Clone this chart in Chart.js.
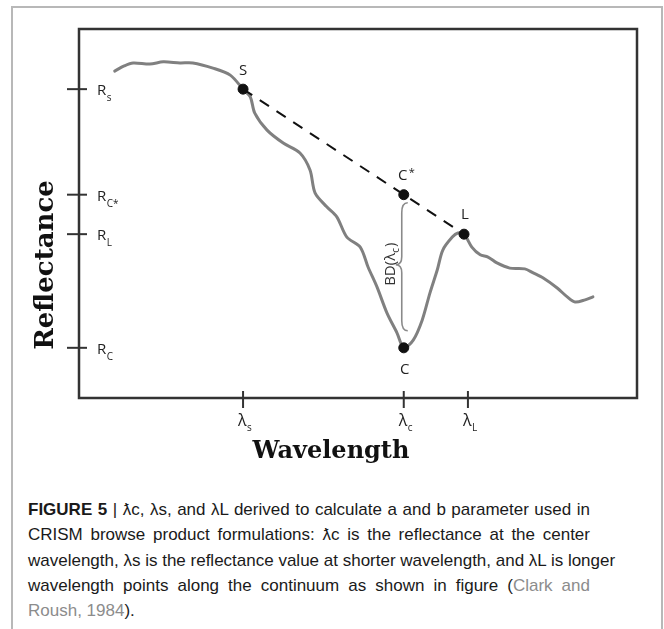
<!DOCTYPE html>
<html>
<head>
<meta charset="utf-8">
<script src="https://cdn.jsdelivr.net/npm/chart.js@4.4.1/dist/chart.umd.min.js"></script>
<style>
	body { margin: 0; background: #fff; width: 664px; height: 629px; overflow: hidden; position: relative; }
	#frame { position: absolute; left: 11px; top: 6px; width: 648px; height: 700px; border: 2px solid #b8b8b8; }
	#myChart { position: absolute; left: 0; top: 0; }
	#caption { position: absolute; left: 28px; top: 497px; width: 562px; font-family: "Liberation Sans Narrow", "Liberation Sans", sans-serif; font-size: 17px; line-height: 25.3px; color: #1a1a1a; }
	#caption div { text-align: justify; text-align-last: justify; white-space: nowrap; }
	#caption div.last { text-align-last: left; }
	#caption b { font-weight: bold; }
	.cite { color: #8c8c8c; }
</style>
</head>
<body>
<div id="frame"></div>
<canvas id="myChart" width="664" height="480"></canvas>
<div id="caption">
	<div><b>FIGURE 5</b> | ƛc, λs, and λL derived to calculate a and b parameter used in</div>
	<div>CRISM browse product formulations: ƛc is the reflectance at the center</div>
	<div>wavelength, λs is the reflectance value at shorter wavelength, and λL is longer</div>
	<div>wavelength points along the continuum as shown in figure (<span class="cite">Clark and</span></div>
	<div class="last"><span class="cite">Roush, 1984</span>).</div>
</div>
<script>
// spectrum (arbitrary units, 0-100 on both axes)
const spectrumX = [6.4, 8.1, 9.7, 12.7, 15.1, 18.1, 20.4, 24.0, 27.1, 29.4, 30.7, 31.5, 33.7, 36.6, 39.6, 41.4, 42.3, 44.4, 46.2, 48.0, 50.4, 51.8, 53.4, 55.2, 57.0, 58.2, 59.9, 61.5, 62.9, 64.2, 65.2, 66.9, 67.9, 69.0, 70.4, 71.9, 73.3, 74.9, 77.2, 79.9, 81.4, 83.2, 85.7, 87.5, 88.9, 90.7, 92.1];
const spectrumY = [88.6, 90.0, 90.8, 90.5, 91.1, 90.8, 90.8, 89.4, 87.5, 83.7, 81.6, 77.2, 72.6, 69.1, 66.4, 61.8, 55.6, 51.8, 49.1, 43.6, 40.9, 35.5, 30.1, 23.0, 17.6, 13.6, 15.7, 21.1, 28.5, 34.7, 40.1, 43.6, 44.7, 44.4, 40.9, 38.8, 38.2, 36.6, 35.2, 35.0, 33.9, 32.5, 29.8, 27.4, 26.0, 26.6, 27.4];

// marked points
const pointNames = ["S", "C*", "L", "C"];
const pointX = [29.4, 58.2, 69.0, 58.2];
const pointY = [83.7, 55.1, 44.4, 13.6];

// continuum line S -> L
const continuumX = [29.4, 69.0];
const continuumY = [83.7, 44.4];

// axis ticks
const xTickValues = [29.4, 58.2, 69.7];
const xTickNames = ["λ", "λ", "λ"];
const xTickSubs = ["s", "c", "L"];
const yTickValues = [83.7, 55.1, 44.4, 13.6];
const yTickNames = ["R", "R", "R", "R"];
const yTickSubs = ["s", "C*", "L", "C"];

const SANS = '"Open Sans", "DejaVu Sans", sans-serif';
const SERIF = '"DejaVu Serif", serif';

const toXY = (xs, ys) => xs.map((x, i) => ({ x: x, y: ys[i] }));

// text with a subscript, returns full width
const subText = (ctx, main, sub, x, y, size, subSize, drop) => {
	ctx.font = size + "px " + SANS;
	ctx.fillText(main, x, y);
	const w = ctx.measureText(main).width;
	ctx.font = subSize + "px " + SANS;
	ctx.fillText(sub, x + w + 0.5, y + drop);
	return w + ctx.measureText(sub).width;
};

const decorations = {
	id: "decorations",
	afterDraw(chart) {
		const ctx = chart.ctx;
		const area = chart.chartArea;
		const xs = chart.scales.x;
		const ys = chart.scales.y;
		ctx.save();

		// box
		ctx.strokeStyle = "#333";
		ctx.lineWidth = 2.5;
		ctx.strokeRect(area.left, area.top, area.right - area.left, area.bottom - area.top);

		// y ticks and labels
		ctx.lineWidth = 2;
		ctx.fillStyle = "#222";
		ctx.textBaseline = "alphabetic";
		ctx.textAlign = "left";
		yTickValues.forEach((v, i) => {
			const py = ys.getPixelForValue(v);
			ctx.beginPath();
			ctx.moveTo(area.left - 12, py);
			ctx.lineTo(area.left + 8, py);
			ctx.stroke();
			subText(ctx, yTickNames[i], yTickSubs[i], area.left + 18, py + 6, 15, 10, 6);
		});

		// x ticks and labels
		xTickValues.forEach((v, i) => {
			const px = xs.getPixelForValue(v);
			ctx.beginPath();
			ctx.moveTo(px, area.bottom - 7);
			ctx.lineTo(px, area.bottom + 10);
			ctx.stroke();
			subText(ctx, xTickNames[i], xTickSubs[i], px - 5, area.bottom + 28, 16, 10, 5);
		});

		// point labels
		const offsets = [[0, -14], [-1, -15], [1, -15], [1, 26]];
		ctx.font = "15px " + SANS;
		ctx.textAlign = "center";
		pointNames.forEach((name, i) => {
			const px = xs.getPixelForValue(pointX[i]) + offsets[i][0];
			const py = ys.getPixelForValue(pointY[i]) + offsets[i][1];
			if (name === "C*") {
				ctx.fillText("C", px, py);
				ctx.font = "11px " + SANS;
				ctx.fillText("*", px + 9, py - 4);
				ctx.font = "15px " + SANS;
			} else {
				ctx.fillText(name, px, py);
			}
		});

		// brace between C* and C
		const bx = xs.getPixelForValue(pointX[1]) - 2;
		const yT = ys.getPixelForValue(pointY[1]) + 8;
		const yB = ys.getPixelForValue(pointY[3]) - 17;
		const mid = (yT + yB) / 2 - 2;
		ctx.strokeStyle = "#8a8a8a";
		ctx.lineWidth = 1.6;
		ctx.beginPath();
		ctx.moveTo(bx + 6, yT);
		ctx.quadraticCurveTo(bx, yT, bx, yT + 10);
		ctx.lineTo(bx, mid - 8);
		ctx.quadraticCurveTo(bx, mid, bx - 6, mid);
		ctx.quadraticCurveTo(bx, mid, bx, mid + 8);
		ctx.lineTo(bx, yB - 10);
		ctx.quadraticCurveTo(bx, yB, bx + 6, yB);
		ctx.stroke();

		// BD(lambda_c) label
		ctx.save();
		ctx.translate(bx - 7, mid);
		ctx.rotate(-Math.PI / 2);
		ctx.textAlign = "left";
		ctx.fillStyle = "#333";
		ctx.font = "15px " + SANS;
		const t1 = "BD(λ";
		const w1 = ctx.measureText(t1).width;
		ctx.font = "10px " + SANS;
		const w2 = ctx.measureText("c").width;
		ctx.font = "15px " + SANS;
		const w3 = ctx.measureText(")").width;
		const start = -(w1 + w2 + w3) / 2;
		ctx.fillText(t1, start, 0);
		ctx.font = "10px " + SANS;
		ctx.fillText("c", start + w1, 4);
		ctx.font = "15px " + SANS;
		ctx.fillText(")", start + w1 + w2 + 1, 0);
		ctx.restore();

		// axis titles
		ctx.fillStyle = "#111";
		ctx.font = "bold 24px " + SERIF;
		ctx.textAlign = "center";
		ctx.fillText("Wavelength", 331, 458);
		ctx.save();
		ctx.translate(53, 265);
		ctx.rotate(-Math.PI / 2);
		ctx.font = "bold 26px " + SERIF;
		ctx.fillText("Reflectance", 0, 0);
		ctx.restore();

		ctx.restore();
	},
};

const initChart = () => {
	const myChartCanvas = document.getElementById("myChart");

	return new Chart(myChartCanvas, {
		type: "scatter",
		data: {
			datasets: [
				{
					data: toXY(pointX, pointY),
					pointRadius: 5,
					pointBackgroundColor: "#111",
					pointBorderColor: "#111",
					showLine: false,
				},
				{
					data: toXY(continuumX, continuumY),
					showLine: true,
					borderColor: "#111",
					borderWidth: 2,
					borderDash: [11, 9],
					pointRadius: 0,
				},
				{
					data: toXY(spectrumX, spectrumY),
					showLine: true,
					borderColor: "#808080",
					borderWidth: 3,
					tension: 0.3,
					pointRadius: 0,
					borderCapStyle: "round",
					borderJoinStyle: "round",
				},
			],
		},
		options: {
			responsive: false,
			animation: false,
			events: [],
			layout: {
				padding: { left: 79, top: 29, right: 27, bottom: 82 },
			},
			scales: {
				x: { type: "linear", min: 0, max: 100, display: false },
				y: { type: "linear", min: 0, max: 100, display: false },
			},
			plugins: {
				legend: { display: false },
				tooltip: { enabled: false },
			},
		},
		plugins: [decorations],
	});
};

window.onload = () => {
	initChart();
};
</script>
</body>
</html>
